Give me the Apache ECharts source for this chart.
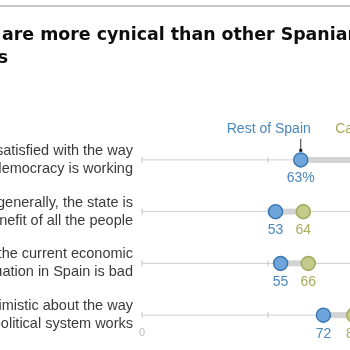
<!DOCTYPE html>
<html>
<head>
<meta charset="utf-8">
<script src="https://cdn.jsdelivr.net/npm/echarts@6/dist/echarts.min.js"></script>
<style>
  html, body { margin: 0; padding: 0; background: #fff; }
  #chart { width: 350px; height: 350px; }
</style>
</head>
<body>
<div id="chart"></div>
<script>
// row labels, top to bottom
var questions = [
  'Not satisfied with the way\ndemocracy is working',
  'Agree that, generally, the state is\nrun for the benefit of all the people',
  'Say the current economic\nsituation in Spain is bad',
  'Pessimistic about the way\nthe political system works'
]
var restOfSpain = [63, 53, 55, 72]
var catalonia = [88, 64, 66, 84]
var axisTicks = [0, 50, 100]

var blue = '#6ea6db', blueLine = '#3b78b3', blueText = '#4a87bd'
var green = '#c4ca8a', greenLine = '#a2aa5c', greenText = '#a6ad5b'
var titleFont = 'bold 17.4px "DejaVu Sans", Arial'

var rows = questions.map(function (q, i) {
  return [i, restOfSpain[i], catalonia[i]]
})

var myChart = echarts.init(document.getElementById('chart'))
var option = {
  animation: false,
  graphic: [
    { type: 'line', shape: { x1: 0, y1: 6, x2: 350, y2: 6 }, style: { stroke: '#b5b5b5', lineWidth: 1.5 } },
    { type: 'text', x: 2, y: 35, style: { text: 'Catalans ', textAlign: 'right', textVerticalAlign: 'middle', font: titleFont, fill: '#0d0d0d' } },
    { type: 'text', x: 2, y: 35, style: { text: 'are more cynical than other Spaniards about their', textVerticalAlign: 'middle', font: titleFont, fill: '#0d0d0d' } },
    { type: 'text', x: 8, y: 58, style: { text: 'political institutions', textAlign: 'right', textVerticalAlign: 'middle', font: titleFont, fill: '#0d0d0d' } }
  ],
  grid: { left: 142, top: 134, width: 252, height: 207, containLabel: false, outerBoundsMode: 'none' },
  xAxis: {
    type: 'value', min: 0, max: 100, interval: 50,
    offset: -16,
    axisLine: { show: false }, axisTick: { show: false }, splitLine: { show: false },
    axisLabel: {
      margin: 2, color: '#bdbdbd', fontSize: 11, fontFamily: 'Liberation Sans',
      formatter: function (v) { return v === 0 ? '0' : '' }
    }
  },
  yAxis: {
    type: 'category', data: questions, inverse: true,
    axisLine: { show: false }, axisTick: { show: false },
    axisLabel: {
      margin: 9, color: '#3a3a3a', fontSize: 14.5, lineHeight: 18,
      fontFamily: 'Liberation Sans', align: 'right', padding: [0, 0, 14, 0]
    }
  },
  series: [
    {
      type: 'custom',
      data: rows,
      z: 1,
      renderItem: function (params, api) {
        var row = api.value(0)
        var a = api.coord([api.value(1), row])
        var b = api.coord([api.value(2), row])
        var p0 = api.coord([0, row])
        var p1 = api.coord([100, row])
        var y = p0[1]
        var children = [
          { type: 'line', shape: { x1: p0[0], y1: y, x2: p1[0], y2: y }, style: { stroke: '#cfcfcf', lineWidth: 1 } },
          { type: 'rect', shape: { x: a[0], y: y - 3, width: b[0] - a[0], height: 6 }, style: { fill: '#d3d3d3' } }
        ]
        axisTicks.forEach(function (t) {
          var p = api.coord([t, row])
          children.push({ type: 'line', shape: { x1: p[0], y1: y - 3, x2: p[0], y2: y + 3 }, style: { stroke: '#c4c4c4', lineWidth: 1 } })
        })
        if (params.dataIndex === 0) {
          children.push(
            { type: 'text', x: a[0] - 32, y: y - 31, style: { text: 'Rest of Spain', textAlign: 'center', textVerticalAlign: 'middle', font: '14px "Liberation Sans"', fill: blueText } },
            { type: 'line', shape: { x1: a[0], y1: y - 21, x2: a[0], y2: y - 8 }, style: { stroke: '#333', lineWidth: 1 } },
            { type: 'rect', shape: { x: a[0] - 1.5, y: y - 11, width: 3, height: 3 }, style: { fill: '#222' } },
            { type: 'text', x: b[0] + 1, y: y - 31, style: { text: 'Catalonia', textAlign: 'center', textVerticalAlign: 'middle', font: '14px "Liberation Sans"', fill: greenText } }
          )
        }
        return { type: 'group', children: children }
      }
    },
    {
      name: 'Rest of Spain',
      type: 'scatter',
      z: 3,
      symbolSize: 14,
      data: restOfSpain.map(function (v, i) { return [v, i] }),
      itemStyle: { color: blue, borderColor: blueLine, borderWidth: 1.5, opacity: 1 },
      label: {
        show: true, position: 'bottom', distance: 4, color: blueText, fontSize: 14, fontFamily: 'Liberation Sans',
        formatter: function (p) { return p.dataIndex === 0 ? p.value[0] + '%' : p.value[0] }
      }
    },
    {
      name: 'Catalonia',
      type: 'scatter',
      z: 3,
      symbolSize: 14,
      data: catalonia.map(function (v, i) { return [v, i] }),
      itemStyle: { color: green, borderColor: greenLine, borderWidth: 1.5, opacity: 1 },
      label: {
        show: true, position: 'bottom', distance: 4, color: greenText, fontSize: 14, fontFamily: 'Liberation Sans',
        formatter: function (p) { return p.dataIndex === 0 ? p.value[0] + '%' : p.value[0] }
      }
    }
  ]
}
myChart.setOption(option)
</script>
</body>
</html>
